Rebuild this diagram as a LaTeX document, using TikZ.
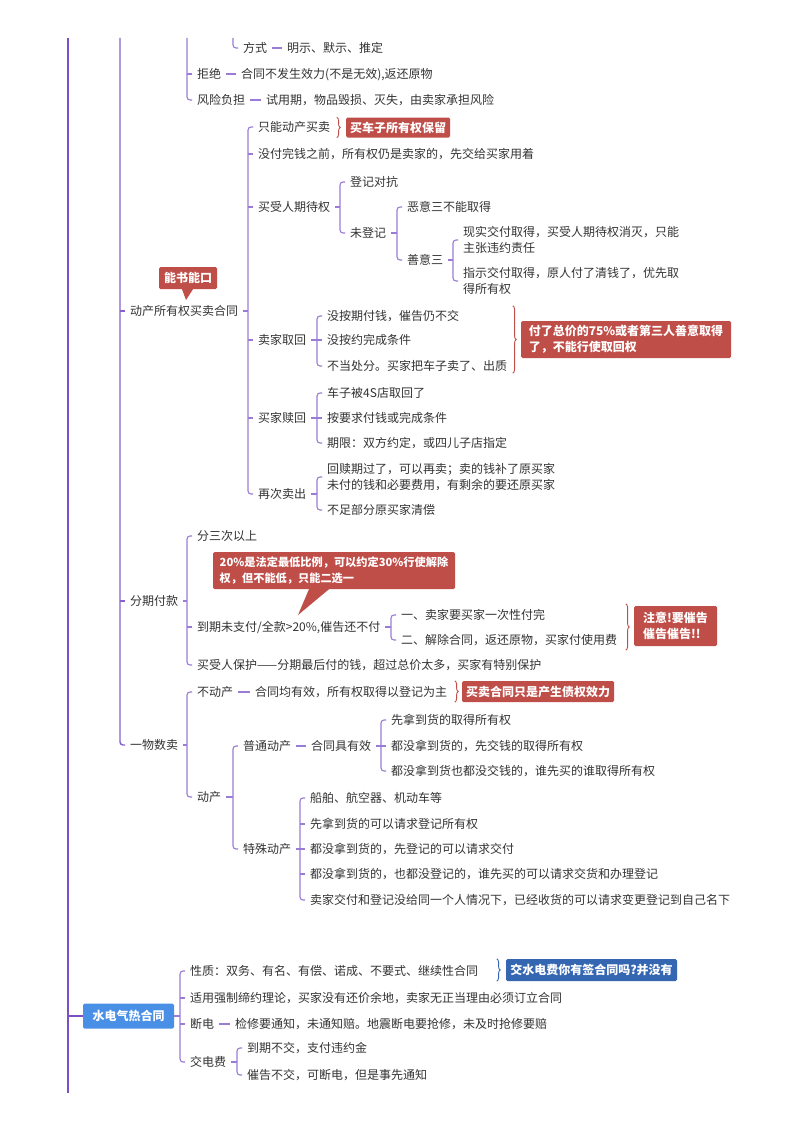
\documentclass[tikz,border=0pt]{standalone}
\usepackage{fontspec}
\setmainfont{Noto Sans CJK SC}
\usetikzlibrary{decorations.pathreplacing}
\definecolor{txt}{HTML}{333333}
\definecolor{brc}{HTML}{9A7BD6}
\definecolor{midc}{HTML}{8660CE}
\definecolor{mainc}{HTML}{7B50C6}
\definecolor{redc}{HTML}{BF4D48}
\definecolor{bluec}{HTML}{3466B2}
\definecolor{boxblue}{HTML}{4A8FE6}
\tikzset{
  t/.style={anchor=west, inner xsep=5pt, inner ysep=2pt, text height=10.5pt, text depth=1.5pt, font=\fontsize{12}{16}\selectfont, text=txt},
  tm/.style={anchor=west, inner xsep=5pt, inner ysep=2pt, align=left, font=\fontsize{12}{16}\selectfont, text=txt},
  br/.style={draw=brc, line width=1.1pt, rounded corners=3pt},
  midl/.style={draw=midc, line width=1.4pt, rounded corners=3pt},
  mainl/.style={draw=mainc, line width=2pt},
  callout/.style={fill=redc, text=white, font=\fontsize{12}{16}\selectfont\bfseries, rounded corners=1.5pt, inner sep=0pt, align=left},
  bcallout/.style={callout, fill=bluec},
  rbrace/.style={draw=redc, line width=0.9pt, decorate, decoration={brace, amplitude=3.5pt}},
  bbrace/.style={draw=bluec, line width=0.9pt, decorate, decoration={brace, amplitude=3.5pt}},
}
\newcommand{\mmbr}[3]{%
  \coordinate (bx) at ([xshift=-5pt]#2.west);
  \draw[br] (#2.west) -- (bx) -- (bx |- #3.west) -- (#3.west);
  \draw[br] (#1.east) -- (#1.east -| bx);
}
\newcommand{\mmtk}[1]{\draw[br] ([xshift=-5pt]#1.west) -- (#1.west);}
\begin{document}
\begin{tikzpicture}[x=1pt,y=-1pt]
\fill[white] (0,0) rectangle (800,1132);
\useasboundingbox (0,0) rectangle (800,1132);

% ---- main vertical lines from previous page
\coordinate (mtop) at (68,38);
\coordinate (mbot) at (68,1093);
\coordinate (top1) at (120,38);
\coordinate (top2) at (187,38);
\coordinate (top3) at (233,38);
\draw[mainl] (mtop) -- (mbot);

% ---- top continuation
\node[t] (fs) at (238,48) {方式};
\node[t] (fsC) at (282,48) {明示、默示、推定};
\node[t] (jj) at (192,74) {拒绝};
\node[t] (jjC) at (236,74) {合同不发生效力(不是无效),返还原物};
\node[t] (fx) at (192,100) {风险负担};
\node[t] (fxC) at (261,100) {试用期，物品毁损、灭失，由卖家承担风险};
\draw[br] (top3) |- (fs.west);
\draw[br] (fs.east) -- (fsC.west);
\draw[br] (top2) |- (fx.west);
\draw[br] (jj.west -| top2) -- (jj.west);
\draw[br] (jj.east) -- (jjC.west);
\draw[br] (fx.east) -- (fxC.west);

% ---- level 1
\node[t] (dcs) at (125,311) {动产所有权买卖合同};
\node[t] (fq) at (125,601) {分期付款};
\node[t] (ywsm) at (125,745) {一物数卖};
\draw[midl] (top1) |- (ywsm.west);
\draw[midl] (dcs.west -| top1) -- (dcs.west);
\draw[midl] (fq.west -| top1) -- (fq.west);

% ---- 动产所有权买卖合同
\node[t] (c1) at (253,127) {只能动产买卖};
\node[t] (c2) at (253,154) {没付完钱之前，所有权仍是卖家的，先交给买家用着};
\node[t] (c3) at (253,207) {买受人期待权};
\node[t] (c4) at (253,340) {卖家取回};
\node[t] (c5) at (253,418) {买家赎回};
\node[t] (c6) at (253,494) {再次卖出};
\mmbr{dcs}{c1}{c6}
\mmtk{c2}\mmtk{c3}\mmtk{c4}\mmtk{c5}

\node[t] (d1) at (345,182) {登记对抗};
\node[t] (d2) at (345,233) {未登记};
\mmbr{c3}{d1}{d2}
\node[t] (e1) at (402,207) {恶意三不能取得};
\node[t] (e2) at (402,260) {善意三};
\mmbr{d2}{e1}{e2}
\node[tm] (f1) at (458,240) {现实交付取得，买受人期待权消灭，只能\\主张违约责任};
\node[tm] (f2) at (458,281) {指示交付取得，原人付了清钱了，优先取\\得所有权};
\mmbr{e2}{f1}{f2}

\node[t] (g1) at (322,316) {没按期付钱，催告仍不交};
\node[t] (g2) at (322,340) {没按约完成条件};
\node[t] (g3) at (322,366) {不当处分。买家把车子卖了、出质};
\mmbr{c4}{g1}{g3}
\mmtk{g2}

\node[t] (h1) at (322,393) {车子被4S店取回了};
\node[t] (h2) at (322,418) {按要求付钱或完成条件};
\node[t] (h3) at (322,443) {期限：双方约定，或四儿子店指定};
\mmbr{c5}{h1}{h3}
\mmtk{h2}

\node[tm] (i1) at (322,477) {回赎期过了，可以再卖；卖的钱补了原买家\\未付的钱和必要费用，有剩余的要还原买家};
\node[t] (i2) at (322,510) {不足部分原买家清偿};
\mmbr{c6}{i1}{i2}

% callouts for 动产所有权买卖合同
\node[callout, minimum width=104pt, minimum height=20pt] (cal1) at (398,127.5) {买车子所有权保留};
\draw[rbrace] ([xshift=-9pt]cal1.north west) -- ([xshift=-9pt]cal1.south west);
\node[callout, minimum width=210pt, minimum height=37pt] (cal2) at (626,339.5) {付了总价的75\%或者第三人善意取得\\了，不能行使取回权};
\draw[rbrace] ([xshift=-8pt,yshift=15pt]cal2.north west) -- ([xshift=-8pt,yshift=-15pt]cal2.south west);
\node[callout, minimum width=58pt, minimum height=22pt] (cal3) at (188,278) {能书能口};
\coordinate (tip1) at (186,300);
\fill[redc] ([xshift=-6pt]cal3.south) -- (tip1) -- ([xshift=5pt]cal3.south) -- cycle;

% ---- 分期付款
\node[t] (j1) at (192,536) {分三次以上};
\node[t] (j2) at (192,627) {到期未支付/全款>20\%,催告还不付};
\node[t] (j3) at (192,665) {买受人保护——分期最后付的钱，超过总价太多，买家有特别保护};
\mmbr{fq}{j1}{j3}
\mmtk{j2}
\node[t] (k1) at (396,615) {一、卖家要买家一次性付完};
\node[t] (k2) at (396,640) {二、解除合同，返还原物，买家付使用费};
\mmbr{j2}{k1}{k2}
\node[callout, font=\fontsize{11.2}{16}\selectfont\bfseries, minimum width=242pt, minimum height=37pt] (cal4) at (334,570.5) {20\%是法定最低比例，可以约定30\%行使解除\\权，但不能低，只能二选一};
\coordinate (tip2) at (298,615);
\fill[redc] ([xshift=-25pt]cal4.south) -- (tip2) -- ([xshift=-5pt]cal4.south) -- cycle;
\node[callout, minimum width=83pt, minimum height=40pt] (cal5) at (675.5,626) {注意!要催告\\催告催告!!};
\draw[rbrace] ([xshift=-8pt,yshift=2pt]cal5.north west) -- ([xshift=-8pt,yshift=-4pt]cal5.south west);

% ---- 一物数卖
\node[t] (l1) at (192,692) {不动产};
\node[t] (l2) at (192,797) {动产};
\mmbr{ywsm}{l1}{l2}
\node[t] (l1c) at (250,692) {合同均有效，所有权取得以登记为主};
\draw[br] (l1.east) -- (l1c.west);
\node[callout, minimum width=152pt, minimum height=21pt] (cal6) at (538,691.5) {买卖合同只是产生债权效力};
\draw[rbrace] ([xshift=-7pt]cal6.north west) -- ([xshift=-7pt]cal6.south west);

\node[t] (m1) at (238,746) {普通动产};
\node[t] (m2) at (238,849) {特殊动产};
\mmbr{l2}{m1}{m2}
\node[t] (m1c) at (306,746) {合同具有效};
\draw[br] (m1.east) -- (m1c.west);
\node[t] (n1) at (386,720) {先拿到货的取得所有权};
\node[t] (n2) at (386,746) {都没拿到货的，先交钱的取得所有权};
\node[t] (n3) at (386,771) {都没拿到货也都没交钱的，谁先买的谁取得所有权};
\mmbr{m1c}{n1}{n3}
\mmtk{n2}

\node[t] (o1) at (305,798) {船舶、航空器、机动车等};
\node[t] (o2) at (305,824) {先拿到货的可以请求登记所有权};
\node[t] (o3) at (305,849) {都没拿到货的，先登记的可以请求交付};
\node[t] (o4) at (305,874) {都没拿到货的，也都没登记的，谁先买的可以请求交货和办理登记};
\node[t] (o5) at (305,900) {卖家交付和登记没给同一个人情况下，已经收货的可以请求变更登记到自己名下};
\mmbr{m2}{o1}{o5}
\mmtk{o2}\mmtk{o3}\mmtk{o4}

% ---- 水电气热合同
\node[fill=boxblue, text=white, font=\fontsize{12}{16}\selectfont\bfseries, rounded corners=1.5pt, minimum width=91pt, minimum height=25pt, inner sep=0pt] (sd) at (128.5,1016) {水电气热合同};
\draw[mainl] (sd.west -| mtop) -- (sd.west);
\node[t] (p1) at (185,971) {性质：双务、有名、有偿、诺成、不要式、继续性合同};
\node[t] (p2) at (185,998) {适用强制缔约理论，买家没有还价余地，卖家无正当理由必须订立合同};
\node[t] (p3) at (185,1024) {断电};
\node[t] (p4) at (185,1062) {交电费};
\mmbr{sd}{p1}{p4}
\mmtk{p2}\mmtk{p3}
\node[t] (p3c) at (230,1024) {检修要通知，未通知赔。地震断电要抢修，未及时抢修要赔};
\draw[br] (p3.east) -- (p3c.west);
\node[t] (q1) at (242,1048) {到期不交，支付违约金};
\node[t] (q2) at (242,1075) {催告不交，可断电，但是事先通知};
\mmbr{p4}{q1}{q2}
\node[bcallout, minimum width=171pt, minimum height=22pt] (cal7) at (591.5,970) {交水电费你有签合同吗?并没有};
\draw[bbrace] ([xshift=-9pt]cal7.north west) -- ([xshift=-9pt]cal7.south west);
\end{tikzpicture}
\end{document}
